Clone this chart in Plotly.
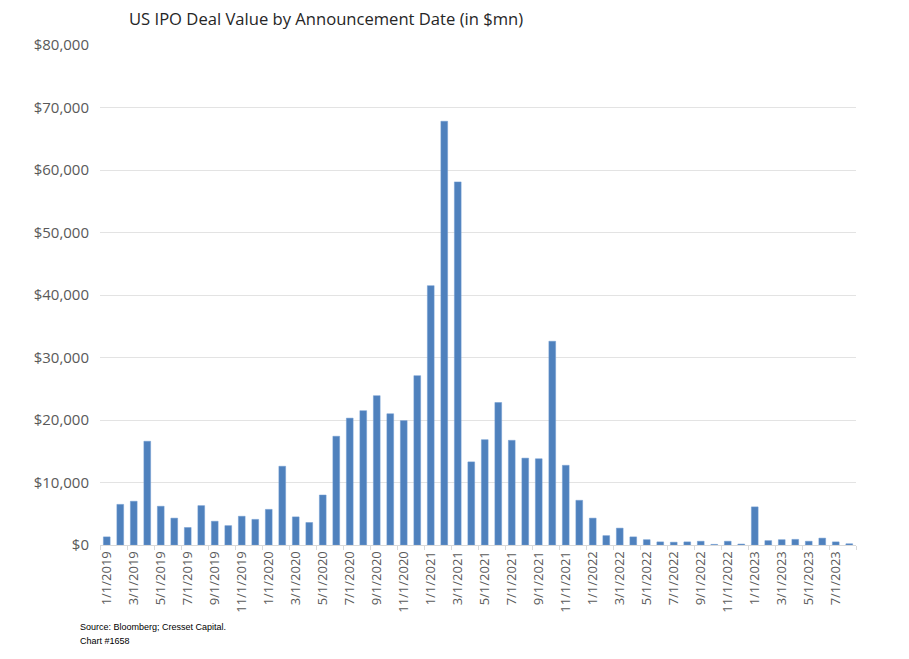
import plotly.graph_objects as go

months = []
for y in range(2019, 2024):
    for m in range(1, 13):
        if y == 2023 and m > 8:
            break
        months.append(f"{m}/1/{y}")

values = [
    1300, 6500, 7000, 16600, 6200, 4300, 2800, 6300, 3800, 3100, 4600, 4100,
    5700, 12600, 4500, 3600, 8000, 17400, 20300, 21500, 23900, 21000, 19900, 27100,
    41500, 67800, 58100, 13300, 16850, 22800, 16750, 13900, 13800, 32600, 12750, 7150,
    4300, 1500, 2700, 1300, 850, 500, 450, 500, 600, 100, 600, 150,
    6100, 700, 850, 900, 600, 1100, 500, 200,
]

title_text = "US IPO Deal Value by Announcement Date (in $mn)"
source_lines = ["Source: Bloomberg; Cresset Capital.", "Chart #1658"]

fig = go.Figure(go.Bar(
    x=months, y=values,
    marker=dict(color="#4f81bd", line=dict(color="#6f9ad0", width=0.5)),
    width=0.5,
))

fig.update_layout(
    width=909, height=659,
    margin=dict(l=100, r=53, t=45, b=114),
    plot_bgcolor="white", paper_bgcolor="white",
    font=dict(family="Open Sans, sans-serif", color="#595959"),
    showlegend=False,
    bargap=0.5,
)

fig.update_xaxes(
    type="category", dtick=2, tickangle=-90,
    tickfont=dict(size=13, color="#595959"),
    showline=True, linecolor="#d9d9d9", linewidth=1,
    ticks="outside", ticklen=4, tickcolor="#d9d9d9", tickson="boundaries",
    showgrid=False, range=[-0.5, len(months) - 0.5],
)

fig.update_yaxes(
    range=[0, 80000], dtick=10000, tickprefix="$", tickformat=",",
    tickfont=dict(size=15, color="#595959"),
    showgrid=True, gridcolor="#e3e3e3", gridwidth=1,
    zeroline=False, showline=False, ticks="", ticklabelstandoff=10,
)

fig.add_annotation(
    text=title_text, xref="paper", yref="paper", x=27/756, y=1.0 + 26/500,
    xanchor="left", yanchor="middle", showarrow=False,
    font=dict(size=16.6, color="#262626", family="Open Sans, sans-serif"),
)

for i, line in enumerate(source_lines):
    fig.add_annotation(
        text=line, xref="paper", yref="paper",
        x=-22/756, y=-(627 + 14*i - 545)/500,
        xanchor="left", yanchor="middle", showarrow=False,
        font=dict(size=9, color="#000000", family="Liberation Sans, Arial, sans-serif"),
    )

fig.write_html("out.html")
